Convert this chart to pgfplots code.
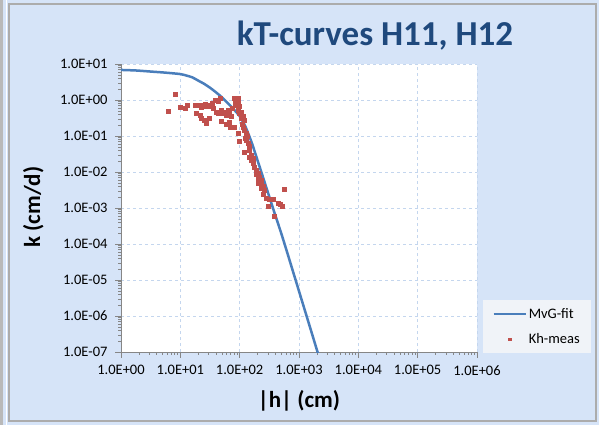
\documentclass[border=0pt]{standalone}
\usepackage{pgfplots}
\usepackage{pgfplotstable}
\pgfplotsset{compat=1.18}
\usepackage{fontspec}
\setmainfont{Carlito}
\definecolor{bgblue}{RGB}{214,228,248}
\definecolor{titleblue}{RGB}{31,73,125}
\definecolor{fitblue}{RGB}{74,126,187}
\definecolor{measred}{RGB}{192,80,77}
\definecolor{gridblue}{RGB}{196,214,238}
\definecolor{axgray}{RGB}{134,134,134}
\definecolor{legbg}{RGB}{240,243,248}
\pgfplotsset{
  longline legend/.style={legend image code/.code={\draw[##1] (0pt,0pt) -- (32pt,0pt);}},
  mark legend/.style={legend image code/.code={\draw[mark repeat=2,mark phase=2,##1,mark size=1.3pt] plot coordinates {(0pt,0pt) (16pt,0pt) (32pt,0pt)};}},
}

\pgfplotstableread{
h k
1 6.84
1.778 6.61
3.162 6.17
5.623 5.75
10 5.25
12.59 4.79
15.85 4.27
19.95 3.47
25.12 2.82
31.62 2.19
39.81 1.64
50.12 1.19
63.10 0.813
79.43 0.550
100 0.355
125.9 0.178
158.5 0.0676
199.5 0.0214
251.2 0.00661
316.2 0.00204
398.1 6.31e-4
501.2 2.0e-4
631.0 5.89e-5
794.3 1.70e-5
1000 4.90e-6
1259 1.41e-6
1585 4.07e-7
1995 1.17e-7
2512 3.39e-8
}\fitdata

\pgfplotstableread{
h k
8.30 1.47
6.34 0.494
9.81 0.627
11.9 0.588
13.0 0.727
17.5 0.695
21.3 0.727
22.1 0.627
25.8 0.774
27.6 0.681
31.3 0.727
33.4 0.652
38.0 0.957
43.2 0.897
46.1 1.11
18.2 0.428
21.3 0.383
22.7 0.322
24.8 0.278
27.6 0.225
30.5 0.311
35.6 0.588
39.5 0.473
43.2 0.428
49.2 0.505
52.4 0.428
55.9 0.473
59.7 0.383
63.5 0.505
67.9 0.428
72.6 0.344
49.2 0.266
58.2 0.215
66.1 0.249
69.8 0.181
82.4 0.181
82.4 1.11
93.6 1.11
88.1 0.727
100 0.652
93.6 0.528
107 0.473
100 0.428
114 0.344
107 0.311
121 0.278
93.6 0.119
100 0.0740
114 0.181
121 0.147
130 0.119
126 0.0863
138 0.0627
147 0.0505
121 0.0366
147 0.0266
157 0.0215
168 0.0174
179 0.0140
191 0.0114
203 0.00920
217 0.00740
232 0.00600
203 0.00485
246 0.00391
232 0.00353
263 0.00316
556 0.00330
281 0.00186
319 0.00175
363 0.00175
299 0.00114
440 0.00140
483 0.00129
522 0.00114
387 5.81e-4
131 0.0774
142 0.0408
159 0.0297
172 0.0245
193 0.00880
208 0.00681
234 0.00436
253 0.00245
136 0.1
112 0.215
85.7 0.826
96.2 0.938
76.3 0.600
33.8 0.826
}\measdata

\begin{document}
\begin{tikzpicture}
\path[use as bounding box] (0pt,0pt) rectangle (599pt,425pt);
\fill[bgblue] (0pt,0pt) rectangle (599pt,425pt);
\fill[gray!55] (0pt,0pt) rectangle (3pt,425pt);
\draw[gray!65, line width=1.6pt] (9pt,4pt) rectangle (596pt,421pt);
\draw[white, line width=0.8pt] (6.5pt,0pt) -- (6.5pt,425pt);
\node[font=\fontsize{35}{40}\selectfont\bfseries, text=titleblue] at (375pt,389pt) {kT-curves H11, H12};
\begin{axis}[
  at={(121pt,73pt)}, anchor=south west,
  scale only axis, width=356pt, height=288pt,
  xmode=log, ymode=log,
  xmin=1, xmax=1e6, ymin=1e-7, ymax=10,
  axis background/.style={fill=white},
  xtick={1,10,100,1000,10000,100000,1000000},
  xticklabels={1.0E+00,1.0E+01,1.0E+02,1.0E+03,1.0E+04,1.0E+05,1.0E+06},
  ytick={1e-7,1e-6,1e-5,1e-4,1e-3,1e-2,1e-1,1,10},
  yticklabels={1.0E-07,1.0E-06,1.0E-05,1.0E-04,1.0E-03,1.0E-02,1.0E-01,1.0E+00,1.0E+01},
  minor tick num=0,
  grid=major,
  major grid style={gridblue, dashed, line width=0.6pt},
  axis x line*=bottom, axis y line*=left,
  axis line style={axgray, line width=0.6pt, -},
  tick style={axgray, line width=0.6pt},
  tick align=outside, major tick length=6pt,
  ticklabel style={font=\fontsize{14.5}{16}\selectfont},
  xticklabel style={yshift=-4pt},
  yticklabel style={xshift=-4pt},
  xlabel={|h| (cm)}, ylabel={k (cm/d)},
  xlabel style={font=\fontsize{23}{26}\selectfont\bfseries, at={(axis description cs:0.5,-0.170)}, anchor=center},
  ylabel style={font=\fontsize{23}{26}\selectfont\bfseries, at={(axis description cs:-0.246,0.503)}, anchor=center},
  legend style={at={(1.017,0.181)}, anchor=north west, fill=legbg, draw=none,
    font=\fontsize{14.5}{16}\selectfont, row sep=10pt, inner xsep=9pt, inner ysep=6pt,
    /tikz/every even column/.append style={column sep=1pt}},
  legend cell align=left,
  clip=true,
]
\addplot[fitblue, line width=2.5pt, smooth, tension=0.4, longline legend]
  table[x=h, y=k] {\fitdata};
\addlegendentry{MvG-fit\hspace{14pt}}
\addplot[only marks, mark=square*, mark size=2.0pt, color=measred, mark legend]
  table[x=h, y=k] {\measdata};
\addlegendentry{Kh-meas\hspace{14pt}}
\end{axis}
\end{tikzpicture}
\end{document}
